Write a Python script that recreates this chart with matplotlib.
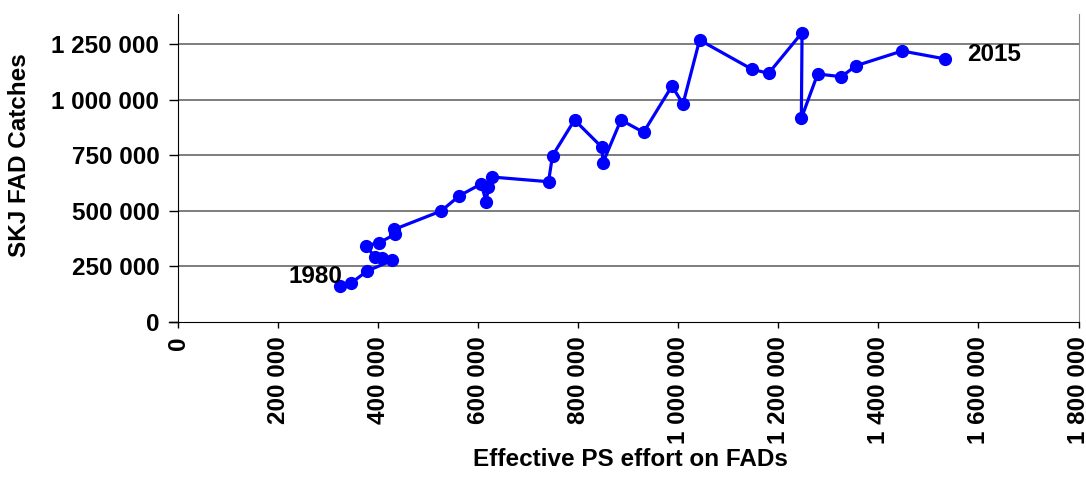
import matplotlib
matplotlib.use("Agg")
import matplotlib.pyplot as plt
from matplotlib.ticker import FuncFormatter, MultipleLocator

# Effective PS effort on FADs (x) vs SKJ FAD catches (y), 1980 -> 2015
effort = [324000, 345400, 378000, 428000, 407400, 394000, 375000, 402600,
          434000, 432600, 526000, 562600, 606000, 616000, 620600, 627000,
          740600, 748600, 792600, 847400, 849400, 885400, 930600, 987400,
          1009400, 1042600, 1147400, 1180600, 1247400, 1246000, 1278600,
          1326000, 1355400, 1447400, 1534000]
catches = [160800, 173000, 228400, 275700, 285600, 292800, 341000, 356700,
           393700, 416200, 498600, 567600, 620500, 541400, 605400, 651800,
           630600, 747700, 908600, 785600, 716200, 908600, 853100, 1061700,
           980600, 1268900, 1136900, 1118900, 1301800, 916200, 1115800,
           1103600, 1153200, 1219400, 1183400]
first_label = "1980"
last_label = "2015"
x_title = "Effective PS effort on FADs"
y_title = "SKJ FAD Catches"

plt.rcParams['font.family'] = ['Liberation Sans', 'DejaVu Sans']
plt.rcParams['font.weight'] = 'bold'

FS = 17.5
W, H = 1086, 478
fig = plt.figure(figsize=(W / 100, H / 100), dpi=100)
ax_w = 1078.5 - 178
ax_h = 321.7 - 14
ax = fig.add_axes([178 / W, 1 - 321.7 / H, ax_w / W, ax_h / H])

ax.set_xlim(0, 1800000)
ax.set_ylim(0, 1386000)

ax.xaxis.set_major_locator(MultipleLocator(200000))
ax.yaxis.set_major_locator(MultipleLocator(250000))
fmt = FuncFormatter(lambda v, p: f"{int(round(v)):,}".replace(",", " "))
ax.xaxis.set_major_formatter(fmt)
ax.yaxis.set_major_formatter(fmt)

for yv in [250000, 500000, 750000, 1000000, 1250000]:
    ax.axhline(yv, color='#5a5a5a', linewidth=1.1, zorder=1)
# small extension of the x axis line to the left of the y axis
ax.axhline(0, xmin=-9 / ax_w, xmax=0, color='black', linewidth=1, clip_on=False)

ax.plot(effort, catches, color='#0000FF', linewidth=2.3, marker='o',
        markersize=8.5, zorder=3)

ax.annotate(first_label, (effort[0], catches[0]), xytext=(2, 10),
            textcoords='offset pixels', ha='right', va='center',
            fontsize=FS, fontweight='bold')
ax.annotate(last_label, (effort[-1], catches[-1]), xytext=(22, 4),
            textcoords='offset pixels', ha='left', va='center',
            fontsize=FS, fontweight='bold')

ax.spines['top'].set_visible(False)
ax.spines['right'].set_color('#888888')
ax.spines['left'].set_color('black')
ax.spines['bottom'].set_color('black')
ax.tick_params(axis='both', direction='out', width=1, color='black',
               labelsize=FS)
ax.tick_params(axis='x', rotation=90, pad=6, length=4.5)
ax.tick_params(axis='y', pad=7, length=6.5)
for lab in ax.get_xticklabels() + ax.get_yticklabels():
    lab.set_fontweight('bold')

ax.set_xlabel(x_title, fontsize=FS, fontweight='bold')
ax.set_ylabel(y_title, fontsize=FS, fontweight='bold')
ax.xaxis.set_label_coords((630 - 178) / ax_w, (321.7 - 460) / ax_h)
ax.yaxis.set_label_coords((20 - 178) / ax_w, (321.7 - 155) / ax_h)
ax.xaxis.label.set_va('center')
ax.yaxis.label.set_va('center')

fig.savefig("out.png", dpi=100)
